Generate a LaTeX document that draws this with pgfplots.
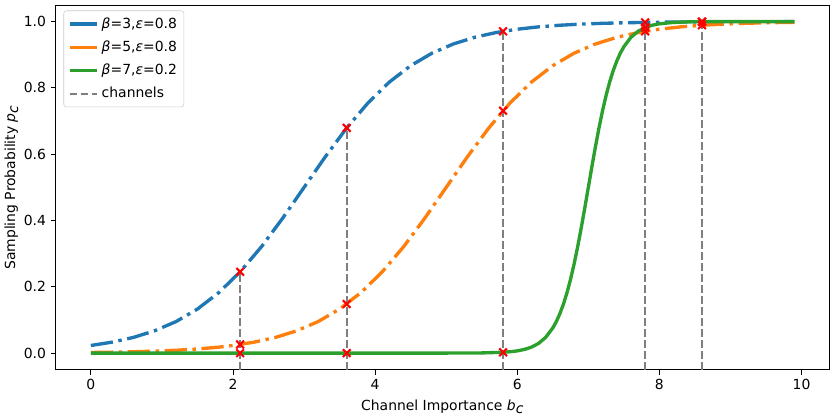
\documentclass[border=0pt]{standalone}
\usepackage{fontspec}
\setmainfont{DejaVu Sans}
\usepackage{pgfplots}
\pgfplotsset{compat=1.18}
\definecolor{tblue}{HTML}{1F77B4}
\definecolor{torange}{HTML}{FF7F0E}
\definecolor{tgreen}{HTML}{2CA02C}
\definecolor{tgray}{HTML}{7F7F7F}
\begin{document}
\begin{tikzpicture}
\begin{axis}[
    name=main,
    scale only axis,
    width=556pt, height=262pt,
    xmin=-0.495, xmax=10.395,
    ymin=-0.05, ymax=1.05,
    xtick={0,2,4,6,8,10},
    ytick={0,0.2,0.4,0.6,0.8,1.0},
    yticklabel style={/pgf/number format/.cd,fixed,fixed zerofill,precision=1},
    /pgf/number format/assume math mode=true,
    tick align=outside,
    xtick pos=bottom, ytick pos=left,
    major tick length=3.5pt,
    tick style={black, line width=0.6pt},
    axis line style={line width=0.6pt},
    tick label style={font=\fontsize{10}{12}\selectfont},
    label style={font=\fontsize{10}{12}\selectfont},
    xlabel={Channel Importance \textit{b}$_{\textit{c}}$},
    ylabel={Sampling Probability \textit{p}$_{\textit{c}}$},
    ylabel style={yshift=-3pt},
    legend pos=north west,
    legend cell align=left,
    legend style={font=\fontsize{10}{12}\selectfont, draw=black!20, rounded corners=2pt,
        fill=white, fill opacity=0.8, text opacity=1, inner sep=3pt, row sep=3.5pt,
        at={(0.01,0.985)}, anchor=north west},
    legend image code/.code={\draw[#1] (0cm,0cm) -- (0.7cm,0cm);},
]
\addplot[tblue, line width=2.4pt, dash pattern=on 16pt off 4pt on 2.5pt off 4pt,
    legend image post style={solid}] coordinates {
(0,0.0230)(0.3,0.0331)(0.6,0.0474)(0.9,0.0676)(1.2,0.0953)(1.5,0.1330)(1.8,0.1824)
(2.1,0.2451)(2.4,0.3208)(2.7,0.4073)(3.0,0.5)(3.3,0.5927)(3.6,0.6792)(3.9,0.7549)
(4.2,0.8176)(4.5,0.8670)(4.8,0.9047)(5.1,0.9324)(5.4,0.9526)(5.7,0.9669)(6.0,0.9770)
(6.3,0.9841)(6.6,0.9890)(6.9,0.9924)(7.2,0.9948)(7.5,0.9964)(7.8,0.9975)(8.1,0.9983)
(8.4,0.9988)(8.7,0.9992)(9.0,0.9994)(9.3,0.9996)(9.6,0.9997)(9.9,0.9998)
};
\addlegendentry{\textit{β}=3,\textit{ε}=0.8}
\addplot[torange, line width=2.4pt, dash pattern=on 16pt off 4pt on 2.5pt off 4pt,
    legend image post style={solid}] coordinates {
(0,0.0019)(0.3,0.0028)(0.6,0.0041)(0.9,0.0059)(1.2,0.0086)(1.5,0.0124)(1.8,0.0180)
(2.0,0.0230)(2.3,0.0331)(2.6,0.0474)(2.9,0.0676)(3.2,0.0953)(3.5,0.1330)(3.8,0.1824)
(4.1,0.2451)(4.4,0.3208)(4.7,0.4073)(5.0,0.5)(5.3,0.5927)(5.6,0.6792)(5.9,0.7549)
(6.2,0.8176)(6.5,0.8670)(6.8,0.9047)(7.1,0.9324)(7.4,0.9526)(7.7,0.9669)(8.0,0.9770)
(8.3,0.9841)(8.6,0.9890)(8.9,0.9924)(9.2,0.9948)(9.5,0.9964)(9.8,0.9975)(9.9,0.9978)
};
\addlegendentry{\textit{β}=5,\textit{ε}=0.8}
\addplot[tgreen, line width=2.4pt] coordinates {
(0,0)(5.0,0.00005)(5.5,0.00055)(5.8,0.0025)(5.9,0.0041)(6.0,0.0067)(6.1,0.0110)
(6.2,0.0180)(6.3,0.0293)(6.4,0.0474)(6.5,0.0759)(6.55,0.0953)(6.6,0.1192)(6.65,0.1480)
(6.7,0.1824)(6.75,0.2227)(6.8,0.2689)(6.85,0.3208)(6.9,0.3775)(6.95,0.4378)(7.0,0.5)
(7.05,0.5622)(7.1,0.6225)(7.15,0.6792)(7.2,0.7311)(7.25,0.7773)(7.3,0.8176)(7.35,0.8520)
(7.4,0.8808)(7.45,0.9047)(7.5,0.9241)(7.6,0.9526)(7.7,0.9707)(7.8,0.9820)(7.9,0.9890)
(8.0,0.9933)(8.2,0.9975)(8.4,0.9991)(8.6,0.9997)(9.0,0.99995)(9.9,1.0)
};
\addlegendentry{\textit{β}=7,\textit{ε}=0.2}
\addplot[tgray, line width=1.5pt, dash pattern=on 5.5pt off 2.4pt] coordinates {(2.1,-0.05)(2.1,0.2451)};
\addlegendentry{channels}
\addplot[tgray, line width=1.5pt, dash pattern=on 5.5pt off 2.4pt, forget plot] coordinates {(3.6,-0.05)(3.6,0.6792)};
\addplot[tgray, line width=1.5pt, dash pattern=on 5.5pt off 2.4pt, forget plot] coordinates {(5.8,-0.05)(5.8,0.9707)};
\addplot[tgray, line width=1.5pt, dash pattern=on 5.5pt off 2.4pt, forget plot] coordinates {(7.8,-0.05)(7.8,0.9975)};
\addplot[tgray, line width=1.5pt, dash pattern=on 5.5pt off 2.4pt, forget plot] coordinates {(8.6,-0.05)(8.6,0.9997)};
\addplot[only marks, mark=x, mark size=3.9pt, red, line width=1.5pt, forget plot] coordinates {
(2.1,0.2451)(2.1,0.0260)(2.1,0.0)
(3.6,0.6792)(3.6,0.1480)(3.6,0.0)
(5.8,0.9707)(5.8,0.7311)(5.8,0.0025)
(7.8,0.9975)(7.8,0.9707)(7.8,0.9820)
(8.6,0.9991)(8.6,0.9890)(8.6,0.9997)
};
\end{axis}
\path (main.north) ++(0,3.6pt);
\end{tikzpicture}
\end{document}
